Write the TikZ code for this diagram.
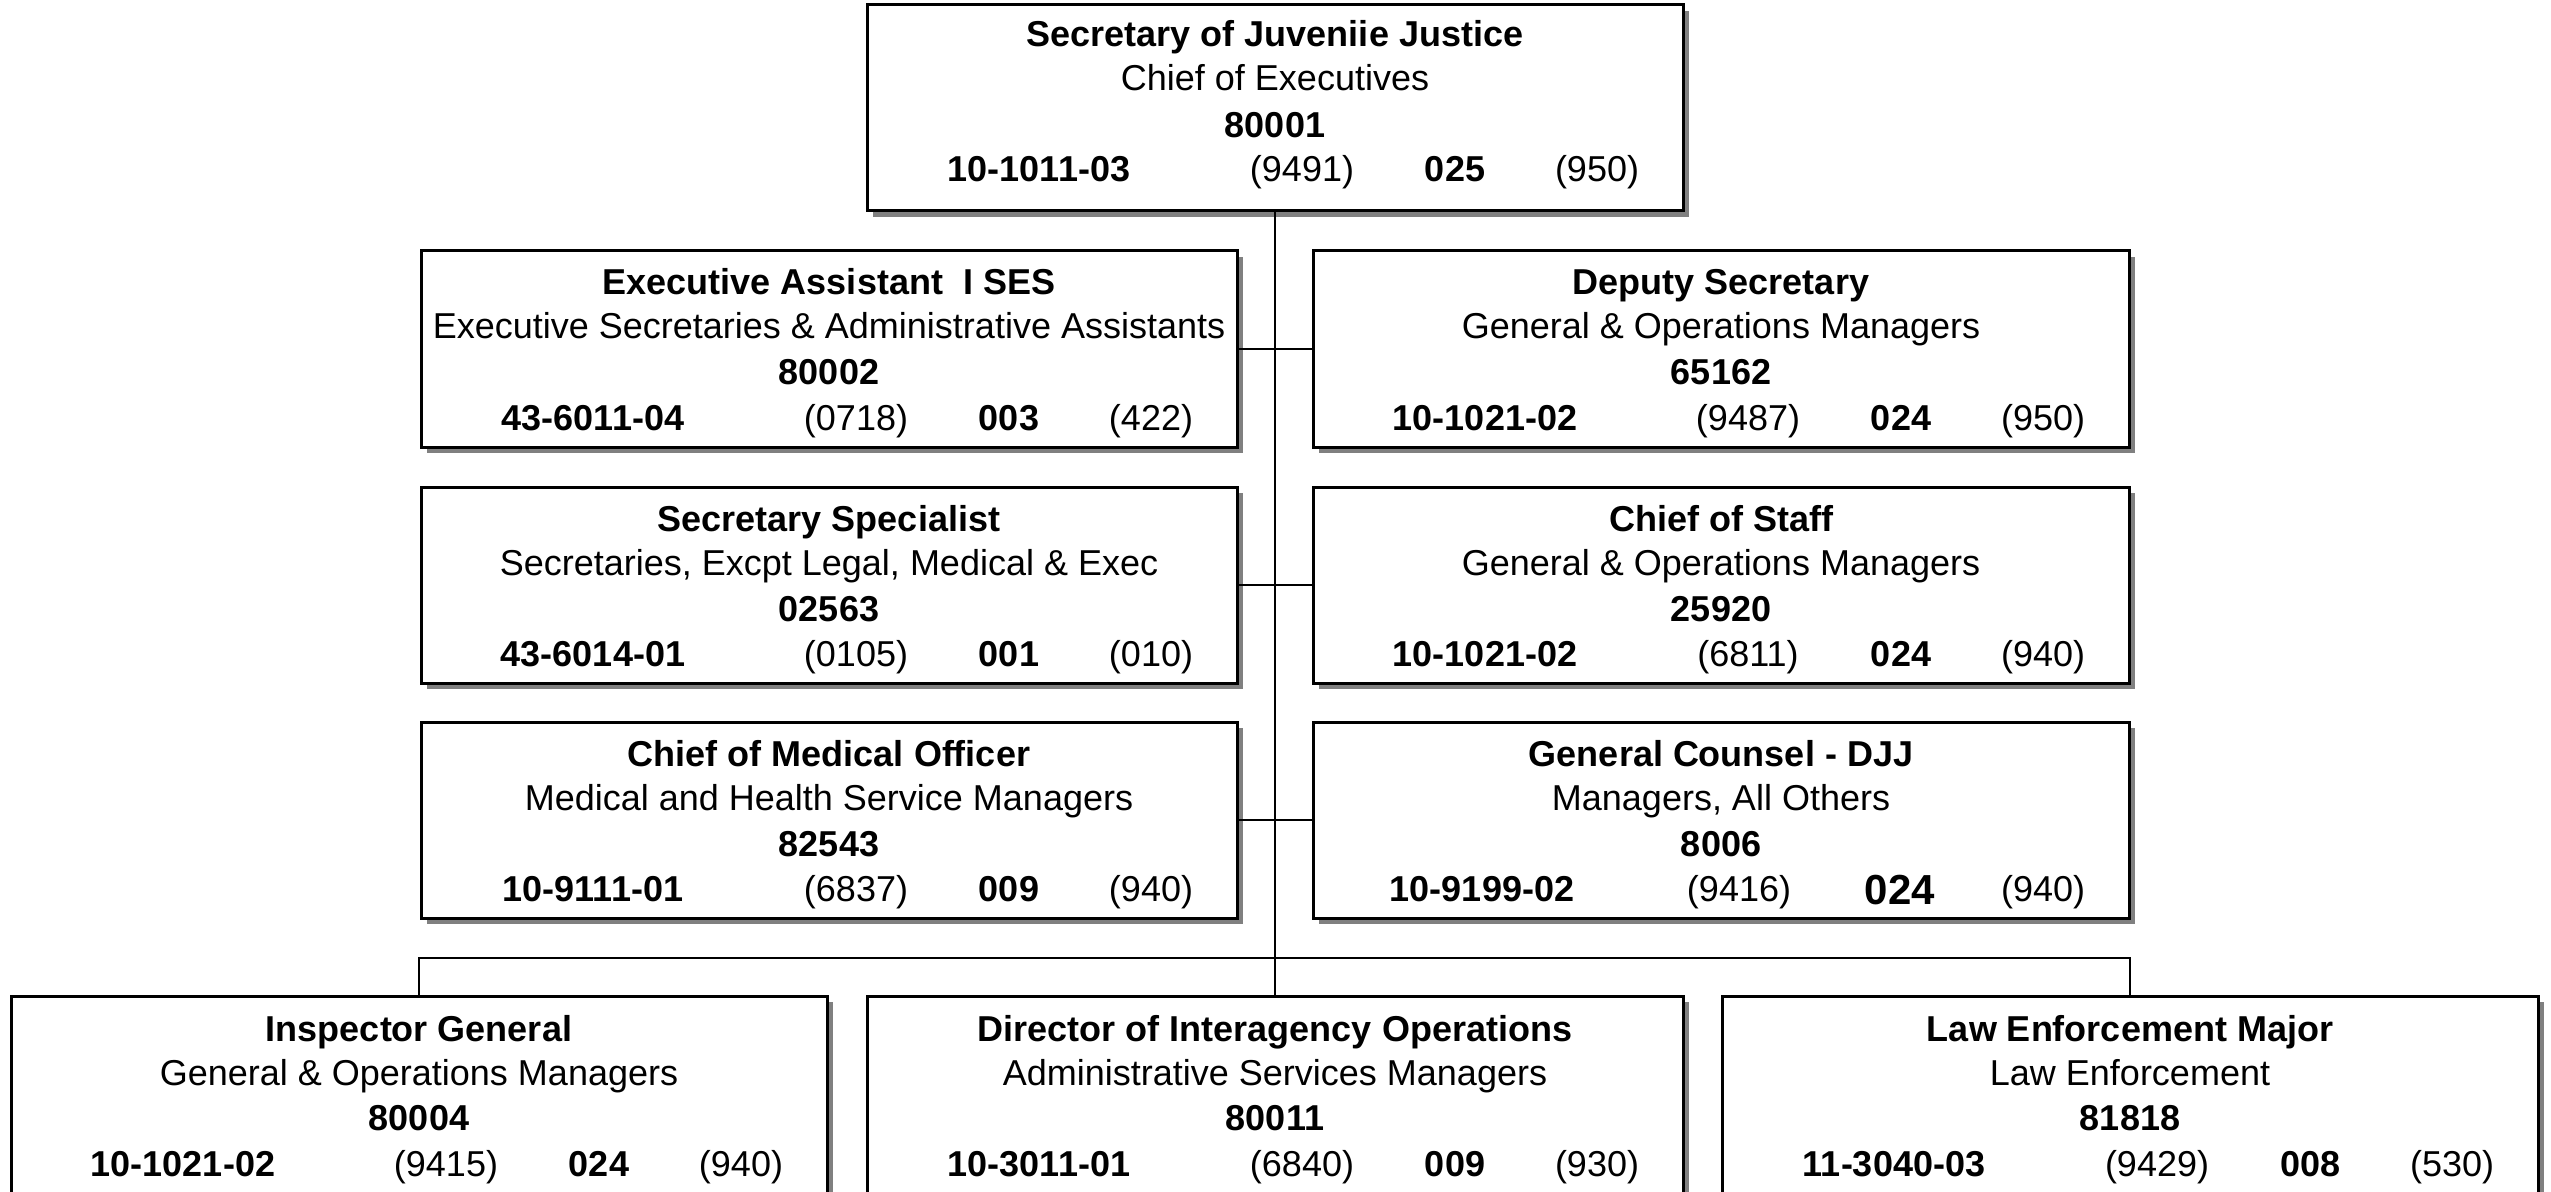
\documentclass[tikz,border=0pt]{standalone}
\usepackage{fontspec}
\setmainfont{Liberation Sans}
\usetikzlibrary{calc,shadows}

% baseline offsets (in px below the box top) of the four text lines
\newcommand\setlines[4]{\def\lnA{#1}\def\lnB{#2}\def\lnC{#3}\def\lnD{#4}}

% position box: title, job class, position number
\newcommand\orgbox[6][]{%
  \node[posbox,#1] (#2) at (#3) {};
  \node[ttl] (#2-title) at ($(#2.north)+(0,\lnA)$) {#4};
  \node[txt] (#2-class) at ($(#2.north)+(0,\lnB)$) {#5};
  \node[ttl] (#2-pos)   at ($(#2.north)+(0,\lnC)$) {#6};
}

% bottom line of a box: code, class number, grade, band
\newcommand\codes[5]{%
  \node[ttl] (#1-code)  at ($(#1.north west)+(172,\lnD)$) {#2};
  \node[txt] (#1-cls)   at ($(#1.north west)+(435,\lnD)$) {#3};
  \node[ttl] (#1-grade) at ($(#1.north west)+(588,\lnD)$) {#4};
  \node[txt] (#1-band)  at ($(#1.north west)+(730,\lnD)$) {#5};
}

\begin{document}
\begin{tikzpicture}[x=0.5pt,y=-0.5pt,
  posbox/.style={rectangle, draw=black, line width=1.5pt, fill=white,
    inner sep=0pt, outer sep=0pt, anchor=north west,
    minimum width=408pt, minimum height=98pt,
    drop shadow={shadow xshift=3.2pt, shadow yshift=-3.2pt,
                 fill=black!50, opacity=1}},
  headbox/.style={minimum height=103pt},
  lowbox/.style={minimum height=115pt},
  txt/.style={inner sep=0pt, anchor=base,
    font=\fontsize{18pt}{22pt}\selectfont},
  ttl/.style={inner sep=0pt, anchor=base,
    font=\fontsize{18pt}{22pt}\selectfont\bfseries},
  link/.style={draw=black, line width=1pt}]

\useasboundingbox (0,0) rectangle (2551,1192);
\clip (0,0) rectangle (2551,1192);

% head of the department
\setlines{42}{86}{133}{177}
\orgbox[headbox]{sjj}{867,5}{Secretary of Juveniie Justice}{Chief of Executives}{80001}
\codes{sjj}{10-1011-03}{(9491)}{025}{(950)}

% staff directly under the secretary
\setlines{44}{88}{134}{179}
\orgbox{ea}{421,251}{Executive Assistant\ \ I SES}{Executive Secretaries \& Administrative Assistants}{80002}
\codes{ea}{43-6011-04}{(0718)}{003}{(422)}

\orgbox{ds}{1313,251}{Deputy Secretary}{General \& Operations Managers}{65162}
\codes{ds}{10-1021-02}{(9487)}{024}{(950)}

\orgbox{ss}{421,487}{Secretary Specialist}{Secretaries, Excpt Legal, Medical \& Exec}{02563}
\codes{ss}{43-6014-01}{(0105)}{001}{(010)}

\orgbox{cs}{1313,487}{Chief of Staff}{General \& Operations Managers}{25920}
\codes{cs}{10-1021-02}{(6811)}{024}{(940)}

\orgbox{cmo}{421,722}{Chief of Medical Officer}{Medical and Health Service Managers}{82543}
\codes{cmo}{10-9111-01}{(6837)}{009}{(940)}

\orgbox{gc}{1313,722}{General Counsel - DJJ}{Managers, All Others}{8006}
\node[ttl] (gc-code)  at ($(gc.north west)+(169,\lnD)$) {10-9199-02};
\node[txt] (gc-cls)   at ($(gc.north west)+(426,\lnD)$) {(9416)};
\node[ttl, font=\fontsize{21pt}{24pt}\selectfont\bfseries]
           (gc-grade) at ($(gc.north west)+(587,\lnD+3)$) {024};
\node[txt] (gc-band)  at ($(gc.north west)+(730,\lnD)$) {(940)};

% divisions
\setlines{45}{89}{134}{180}
\orgbox[lowbox]{ig}{11,996}{Inspector General}{General \& Operations Managers}{80004}
\codes{ig}{10-1021-02}{(9415)}{024}{(940)}

\orgbox[lowbox]{dio}{867,996}{Director of Interagency Operations}{Administrative Services Managers}{80011}
\codes{dio}{10-3011-01}{(6840)}{009}{(930)}

\orgbox[lowbox]{lem}{1722,996}{Law Enforcement Major}{Law Enforcement}{81818}
\codes{lem}{11-3040-03}{(9429)}{008}{(530)}

% reporting lines
\coordinate (bus) at (1275,958);
\draw[link] (sjj.south) -- (dio.north);
\draw[link] (ea.east) -- (ds.west);
\draw[link] (ss.east) -- (cs.west);
\draw[link] (cmo.east) -- (gc.west);
\draw[link] (ig.north) |- (bus) -| (lem.north);

\end{tikzpicture}
\end{document}
